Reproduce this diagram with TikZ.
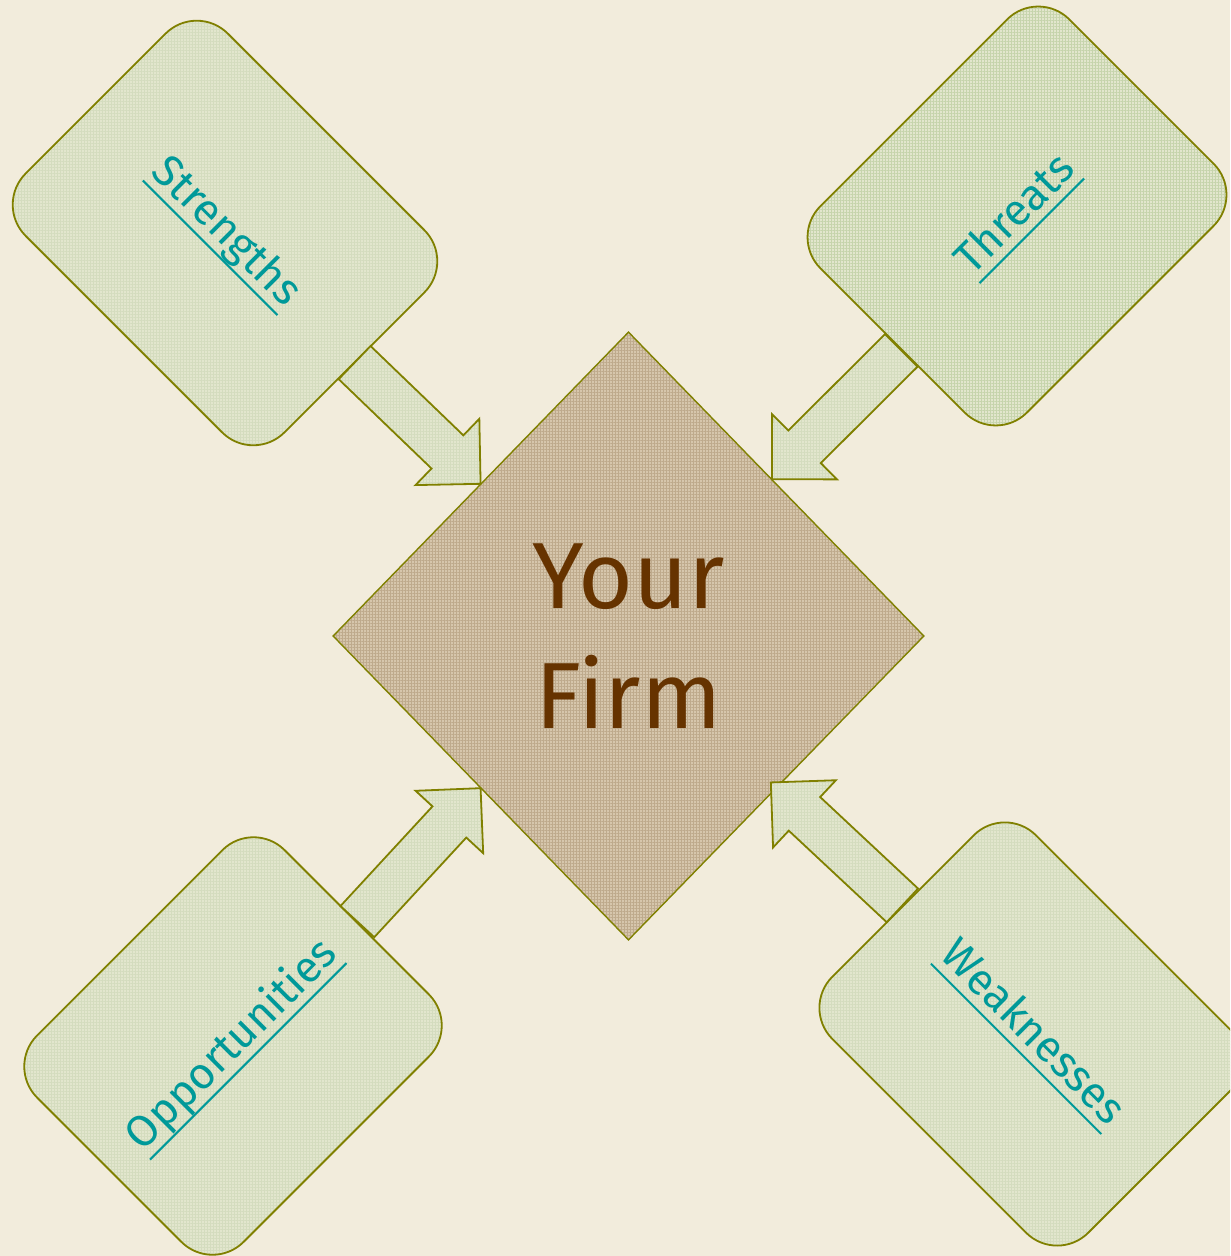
\documentclass[tikz,border=0pt]{standalone}
\usepackage{fontspec}
\setmainfont{Fira Sans}
\usetikzlibrary{positioning,shapes.geometric,calc,patterns.meta}
\definecolor{paper}{RGB}{242,236,220}
\definecolor{swotline}{RGB}{128,128,0}
\definecolor{boxfill}{RGB}{226,230,205}
\definecolor{boxgrid}{RGB}{212,220,190}
\definecolor{threatgrid}{RGB}{198,212,172}
\definecolor{firmfill}{RGB}{214,198,172}
\definecolor{firmgrid}{RGB}{190,170,140}
\definecolor{labelteal}{RGB}{0,153,153}
\definecolor{firmbrown}{RGB}{102,51,0}

% underlined label with a firm rule
\newcommand\ulabel[1]{\setbox0\hbox{#1}\leavevmode\rlap{\raisebox{-5.5pt}{\rule{\wd0}{1pt}}}\box0}

% block arrow from a box anchor to the diamond
\newcommand\swotarrow[2]{%
  \coordinate (neck) at ($(#2)!23pt!(#1)$);
  \draw[blockarrow] ($(#1)!11.5pt!90:(#2)$) -- ($(neck)!11.5pt!90:(#2)$)
    -- ($(neck)!23pt!90:(#2)$) -- (#2) -- ($(neck)!23pt!-90:(#2)$)
    -- ($(neck)!11.5pt!-90:(#2)$) -- ($(#1)!11.5pt!-90:(#2)$) -- cycle;}

\begin{document}
\begin{tikzpicture}[
  x=0.5pt, y=-0.5pt,
  swot/.style={rectangle, rounded corners=22pt, draw=swotline, line width=0.9pt,
               preaction={fill=boxfill}, pattern={Hatch[angle=0,distance=1.5pt,line width=0.3pt]},
               pattern color=#1, minimum width=180pt, minimum height=144pt,
               inner sep=0pt, text=labelteal, font=\fontsize{22}{26}\selectfont},
  swot/.default=boxgrid,
  firmbox/.style={diamond, draw=swotline, line width=0.7pt, preaction={fill=firmfill},
                  pattern={Hatch[angle=0,distance=1.5pt,line width=0.35pt]},
                  pattern color=firmgrid, minimum width=295.5pt, minimum height=304pt,
                  inner sep=0pt, align=center, text=firmbrown,
                  font=\fontsize{47}{60}\selectfont},
  blockarrow/.style={draw=swotline, line width=0.9pt, preaction={fill=boxfill}, line join=miter,
                     pattern={Hatch[angle=0,distance=1.5pt,line width=0.3pt]},
                     pattern color=boxgrid}
]
  % Background
  \useasboundingbox (0,0) rectangle (1230,1256);
  \fill[paper] (0,0) rectangle (1230,1256);
  \clip (0,0) rectangle (1230,1256);

  % SWOT boxes
  \node[swot, rotate=-45, minimum width=183pt, minimum height=143pt] (str) at (225,233) {\ulabel{Strengths}};
  \node[swot=threatgrid, rotate=45, minimum width=176pt, minimum height=146pt] (thr) at (1017,216) {\ulabel{Threats}};
  \node[swot, rotate=45, minimum width=175pt, minimum height=146pt] (opp) at (233,1046) {\ulabel{Opportunities}};
  \node[swot, rotate=-45, minimum width=181pt, minimum height=144pt] (wea) at (1031,1034) {\ulabel{Weaknesses}};

  % Centre
  \node[firmbox] (firm) at (628.5,636) {Your\\Firm};

  % Arrows
  \coordinate (thrtail) at ($(thr.west)!0.09!(thr.south west)$);
  \coordinate (thrtip) at ($(firm.north east)!0.03!(firm.north)$);
  \coordinate (weatip) at ($(firm.south east)!4pt!(firm.center)$);
  \swotarrow{str.east}{firm.north west}
  \swotarrow{thrtail}{thrtip}
  \swotarrow{opp.east}{firm.south west}
  \swotarrow{wea.west}{weatip}
\end{tikzpicture}
\end{document}
